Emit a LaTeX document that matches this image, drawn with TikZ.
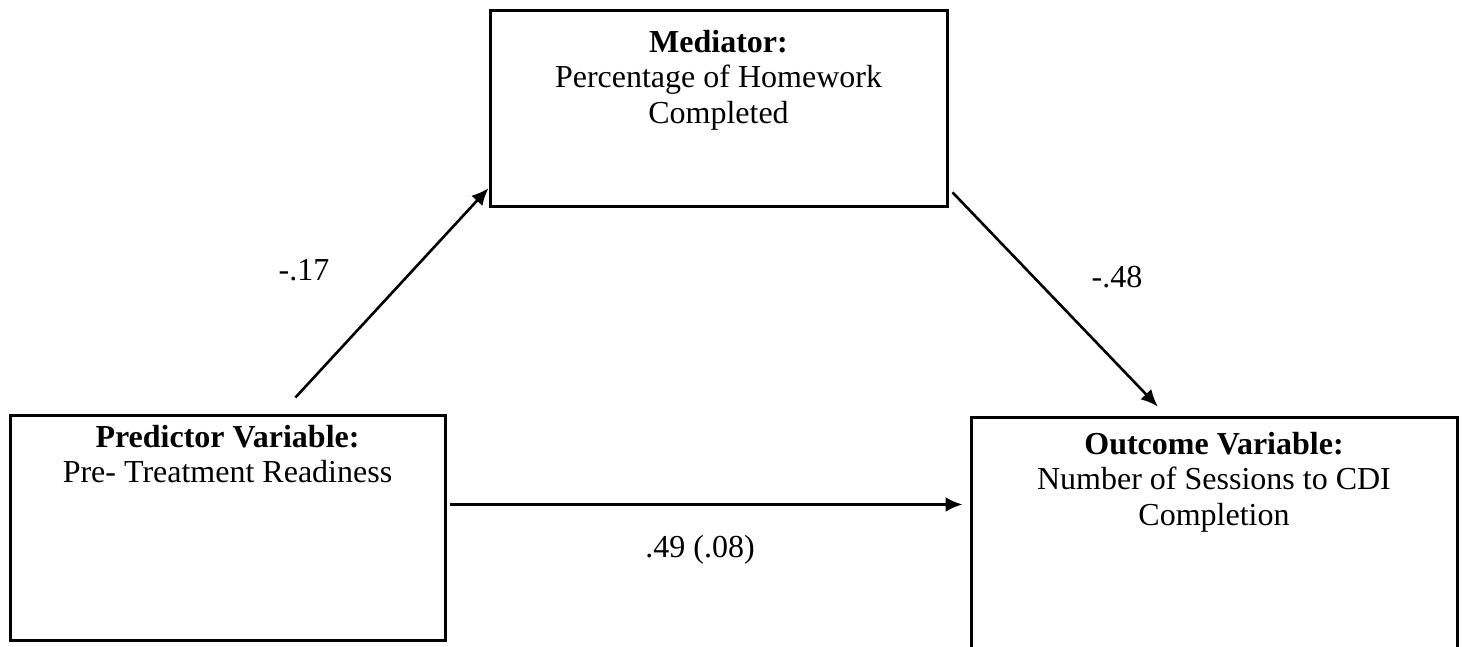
\documentclass[tikz,border=0pt]{standalone}
\usepackage{fontspec}
\setmainfont{Liberation Serif}
\usetikzlibrary{arrows.meta}
\newcommand{\vartext}[4]{\parbox[t][#1][t]{#2}{\centering\textbf{#3}\\#4}}
\tikzset{
  varbox/.style={draw, line width=1.5pt, inner xsep=0pt,
    font=\fontsize{16}{17.7}\selectfont},
  coef/.style={anchor=base, inner sep=0pt,
    font=\fontsize{16}{17.7}\selectfont},
  arrow/.style={-{Latex[length=8.5pt,width=7.5pt]}, line width=1.3pt}
}
\begin{document}
\begin{tikzpicture}[x=0.5pt,y=-0.5pt]
  \path[use as bounding box] (0,0) rectangle (1463,647);
  \clip (0,0) rectangle (1463,647);

  % variables
  \node[varbox,inner ysep=9.5pt] (med) at (718.5,109)
    {\vartext{79pt}{228.5pt}{Mediator:}{Percentage of Homework\\Completed}};
  \node[varbox,inner ysep=5pt] (pred) at (227.5,527.5)
    {\vartext{102.5pt}{217.5pt}{Predictor Variable:}{Pre- Treatment Readiness}};
  \node[varbox,inner ysep=7.5pt] (out) at (1214,539.5)
    {\vartext{107.5pt}{243pt}{Outcome Variable:}{Number of Sessions to CDI\\Completion}};

  % paths
  \draw[arrow,shorten <=10.9pt] (pred.65.8) -- (med.199.5);
  \draw[arrow,shorten <=2.9pt,shorten >=6.2pt] (med.-19.3) -- (out.111);
  \draw[arrow,shorten <=1.5pt,shorten >=3.5pt] (pred.6.43) -- (pred.6.43 -| out.west);

  % coefficients
  \node[coef] (a) at (304,280) {-.17};
  \node[coef] (b) at (1117,287) {-.48};
  \node[coef] (c) at (700,557) {.49 (.08)};
\end{tikzpicture}
\end{document}
